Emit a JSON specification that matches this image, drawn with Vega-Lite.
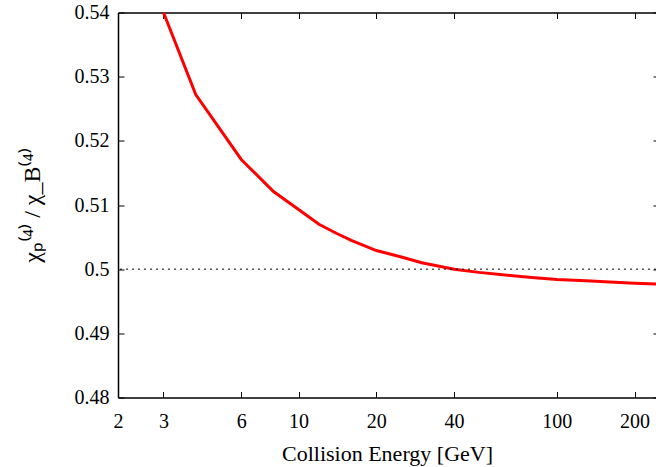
{
  "$schema": "https://vega.github.io/schema/vega-lite/v6.json",
  "width": 538,
  "height": 385,
  "autosize": {"type": "none"},
  "padding": {"left": 118, "top": 12.5, "right": 0, "bottom": 69.5},
  "background": "white",
  "config": {
    "view": {"stroke": null},
    "font": "Liberation Serif",
    "axis": {
      "labelFont": "Liberation Serif",
      "titleFont": "Liberation Serif",
      "labelColor": "black",
      "titleColor": "black",
      "titleFontWeight": "normal",
      "grid": false,
      "domainColor": "black",
      "domainWidth": 1.5,
      "tickColor": "black",
      "tickWidth": 1,
      "labelFontSize": 20
    }
  },
  "datasets": {
    "curve": [
      {"energy": 3, "ratio": 0.5400},
      {"energy": 4, "ratio": 0.5272},
      {"energy": 6, "ratio": 0.5171},
      {"energy": 8, "ratio": 0.5121},
      {"energy": 10, "ratio": 0.5093},
      {"energy": 12, "ratio": 0.5070},
      {"energy": 14, "ratio": 0.5056},
      {"energy": 16, "ratio": 0.5045},
      {"energy": 20, "ratio": 0.5029},
      {"energy": 25, "ratio": 0.5019},
      {"energy": 30, "ratio": 0.5010},
      {"energy": 40, "ratio": 0.5000},
      {"energy": 50, "ratio": 0.4995},
      {"energy": 66, "ratio": 0.4990},
      {"energy": 80, "ratio": 0.4987},
      {"energy": 100, "ratio": 0.4984},
      {"energy": 130, "ratio": 0.4982},
      {"energy": 160, "ratio": 0.4980},
      {"energy": 200, "ratio": 0.4978},
      {"energy": 242, "ratio": 0.4977}
    ],
    "ref": [{"level": 0.5}]
  },
  "resolve": {"axis": {"x": "independent", "y": "independent"}},
  "layer": [
    {
      "data": {"name": "curve"},
      "mark": {"type": "line", "color": "#ff0000", "strokeWidth": 3, "clip": true},
      "encoding": {
        "x": {
          "field": "energy",
          "type": "quantitative",
          "scale": {"type": "log", "domain": [2, 242], "nice": false},
          "axis": {
            "orient": "bottom",
            "values": [2, 3, 6, 10, 20, 40, 100, 200],
            "format": "d",
            "labelFlush": false,
            "labelOverlap": false,
            "tickSize": -6,
            "labelPadding": 20,
            "title": "Collision Energy [GeV]",
            "titleFontSize": 22,
            "titlePadding": 12
          }
        },
        "y": {
          "field": "ratio",
          "type": "quantitative",
          "scale": {"domain": [0.48, 0.54], "nice": false, "zero": false},
          "axis": {
            "orient": "left",
            "values": [0.48, 0.49, 0.5, 0.51, 0.52, 0.53, 0.54],
            "format": "~g",
            "labelOverlap": false,
            "labelFlush": false,
            "tickSize": -6,
            "labelPadding": 15,
            "title": "χₚ⁽⁴⁾ / χ_B⁽⁴⁾",
            "titleFontSize": 24,
            "titlePadding": 30
          }
        }
      }
    },
    {
      "data": {"name": "ref"},
      "mark": {"type": "rule", "color": "black", "strokeDash": [2, 4], "strokeWidth": 1},
      "encoding": {
        "y": {
          "field": "level",
          "type": "quantitative",
          "axis": {
            "orient": "right",
            "values": [0.48, 0.49, 0.5, 0.51, 0.52, 0.53, 0.54],
            "labels": false,
            "domain": false,
            "tickSize": -3,
            "title": null
          }
        }
      }
    },
    {
      "data": {"name": "curve"},
      "mark": {"type": "point", "opacity": 0},
      "encoding": {
        "x": {
          "field": "energy",
          "type": "quantitative",
          "axis": {
            "orient": "top",
            "values": [2, 3, 6, 10, 20, 40, 100, 200],
            "labels": false,
            "tickSize": -6,
            "title": null
          }
        },
        "y": {"field": "ratio", "type": "quantitative", "axis": null}
      }
    }
  ]
}
